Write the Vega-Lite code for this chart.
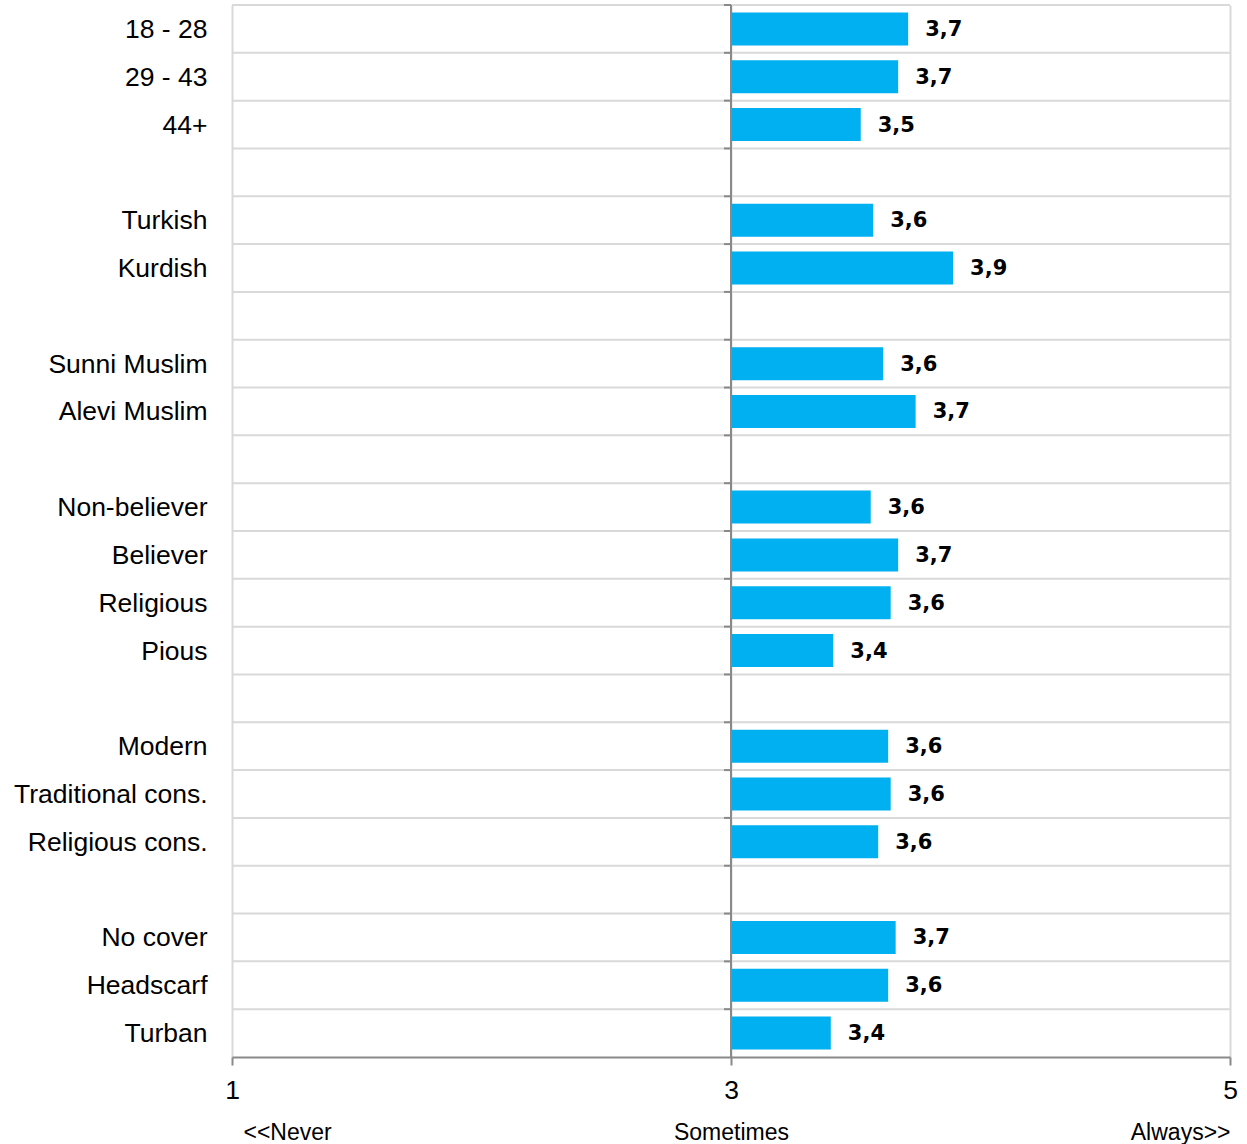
{
  "$schema": "https://vega.github.io/schema/vega-lite/v6.json",
  "width": 998,
  "height": 1052,
  "autosize": {"type": "none"},
  "padding": {"left": 232, "top": 5, "right": 17, "bottom": 87},
  "background": "white",
  "config": {
    "view": {"stroke": null},
    "locale": {"number": {"decimal": ",", "thousands": ".", "grouping": [3], "currency": ["", " €"]}},
    "axisY": {"title": null, "domain": false, "ticks": false, "grid": false,
              "labelFontSize": 26.5, "labelFont": "Liberation Sans", "labelColor": "black",
              "labelPadding": 25, "labelLimit": 0, "labelOffset": 1}
  },
  "data": {
    "values": [
      {"group": "18 - 28", "value": 3.71},
      {"group": "29 - 43", "value": 3.67},
      {"group": "44+", "value": 3.52},
      {"group": " ", "value": null},
      {"group": "Turkish", "value": 3.57},
      {"group": "Kurdish", "value": 3.89},
      {"group": "  ", "value": null},
      {"group": "Sunni Muslim", "value": 3.61},
      {"group": "Alevi Muslim", "value": 3.74},
      {"group": "   ", "value": null},
      {"group": "Non-believer", "value": 3.56},
      {"group": "Believer", "value": 3.67},
      {"group": "Religious", "value": 3.64},
      {"group": "Pious", "value": 3.41},
      {"group": "    ", "value": null},
      {"group": "Modern", "value": 3.63},
      {"group": "Traditional cons.", "value": 3.64},
      {"group": "Religious cons.", "value": 3.59},
      {"group": "     ", "value": null},
      {"group": "No cover", "value": 3.66},
      {"group": "Headscarf", "value": 3.63},
      {"group": "Turban", "value": 3.4}
    ]
  },
  "resolve": {"axis": {"x": "independent"}},
  "layer": [
    {
      "mark": {"type": "rule", "color": "#d9d9d9", "strokeWidth": 2},
      "encoding": {
        "y": {"field": "group", "type": "nominal", "sort": null, "bandPosition": 0,
              "scale": {"paddingInner": 0, "paddingOuter": 0}}
      }
    },
    {
      "mark": {"type": "bar", "color": "#00B0F0", "height": {"band": 0.69}},
      "encoding": {
        "y": {"field": "group", "type": "nominal", "sort": null},
        "x": {"field": "value", "type": "quantitative",
              "scale": {"domain": [1, 5], "nice": false, "zero": false},
              "axis": {"orient": "bottom", "values": [1, 3, 5], "title": null,
                       "grid": true, "gridColor": "#d9d9d9", "gridWidth": 2,
                       "domainColor": "#898989", "domainWidth": 2,
                       "tickColor": "#898989", "tickWidth": 2, "tickSize": 8,
                       "labelFlush": false,
                       "labelFontSize": 26.5, "labelFont": "Liberation Sans", "labelColor": "black",
                       "labelPadding": 12}},
        "x2": {"datum": 3}
      }
    },
    {
      "mark": {"type": "text", "align": "left", "baseline": "middle", "dx": 17, "dy": 1,
               "font": "DejaVu Sans", "fontWeight": "bold", "fontSize": 21, "color": "black"},
      "encoding": {
        "y": {"field": "group", "type": "nominal", "sort": null},
        "x": {"field": "value", "type": "quantitative",
              "axis": {"orient": "bottom", "values": [1, 3, 5], "title": null,
                       "domain": false, "ticks": false, "tickSize": 0, "grid": false,
                       "labelExpr": "datum.value == 1 ? '<<Never' : datum.value == 3 ? 'Sometimes' : 'Always>>'",
                       "labelFlush": true,
                       "labelOffset": {"condition": {"test": "datum.value == 1", "value": 11}, "value": 0},
                       "labelPadding": 64,
                       "labelFontSize": 23, "labelFont": "Liberation Sans", "labelColor": "black"}},
        "text": {"field": "value", "type": "quantitative", "format": ".1f"}
      }
    },
    {
      "mark": {"type": "rule", "color": "#898989", "strokeWidth": 2, "xOffset": -7},
      "encoding": {
        "y": {"field": "group", "type": "nominal", "sort": null, "bandPosition": 0},
        "x": {"datum": 3, "axis": null},
        "x2": {"datum": 3}
      }
    },
    {
      "data": {"values": [{"mid": 3}]},
      "mark": {"type": "rule", "color": "#898989", "strokeWidth": 2},
      "encoding": {
        "x": {"field": "mid", "type": "quantitative", "axis": null}
      }
    }
  ]
}
